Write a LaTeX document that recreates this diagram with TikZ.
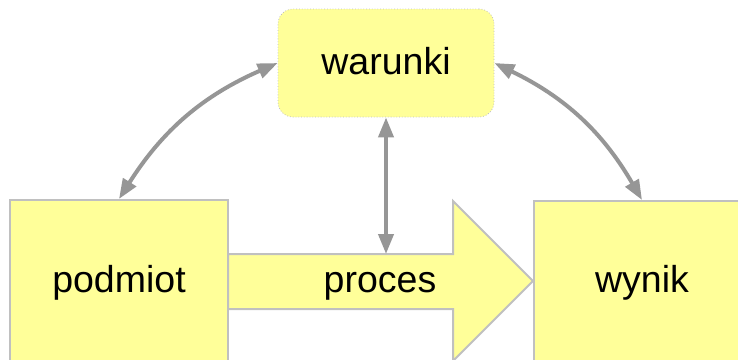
\documentclass[tikz,border=0pt]{standalone}
\usepackage{fontspec}
\setmainfont{Liberation Sans}
\usetikzlibrary{arrows.meta}
\definecolor{boxfill}{RGB}{255,255,153}
\definecolor{boxline}{RGB}{192,192,192}
\definecolor{connline}{RGB}{150,150,150}
\begin{document}
\begin{tikzpicture}[x=1pt,y=-1pt,
  lbl/.style={font=\fontsize{37.5}{40}\selectfont, text height=27pt, text depth=4pt, inner sep=0pt},
  box/.style={lbl, draw=boxline, line width=2pt, fill=boxfill},
  condbox/.style={lbl, draw=boxline, line width=0.8pt, dotted, fill=boxfill, rounded corners=15pt},
  conn/.style={draw=connline, line width=4pt, {Triangle[length=20pt,width=15pt]}-{Triangle[length=20pt,width=15pt]}}
]
\useasboundingbox (0,0) rectangle (738,359);
% big process arrow
\draw[boxline, line width=2pt, fill=boxfill, line join=miter]
  (228,254) -- (453,254) -- (453,201) -- (533,281) -- (453,361) -- (453,309) -- (228,309) -- cycle;
\coordinate (shafttop) at (386,254);
\node[lbl] (proc) at (380,281) {proces};
% boxes
\node[box, minimum width=218pt, minimum height=161pt] (pod) at (119,280.5) {podmiot};
\node[box, minimum width=216pt, minimum height=160pt] (wyn) at (642,281) {wynik};
\node[condbox, minimum width=216pt, minimum height=108pt] (war) at (386,63) {warunki};
% connectors
\draw[conn] (pod.north) to[bend left=17] (war.west);
\draw[conn] (war.east) to[bend left=17] (wyn.north);
\draw[conn] (war.south) -- (shafttop);
\end{tikzpicture}
\end{document}
